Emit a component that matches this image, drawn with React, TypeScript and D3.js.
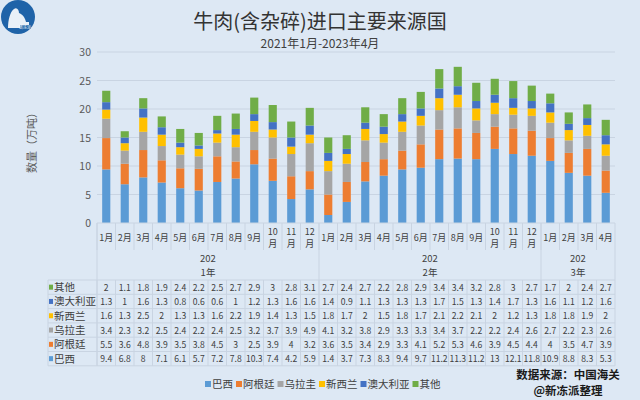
import React from "react";
import * as d3 from "d3";

const monthLabels = ["1月","2月","3月","4月","5月","6月","7月","8月","9月","10月","11月","12月","1月","2月","3月","4月","5月","6月","7月","8月","9月","10月","11月","12月","1月","2月","3月","4月"];
const yearGroups = [
  { label: ["202", "1年"], start: 0, end: 11 },
  { label: ["202", "2年"], start: 12, end: 23 },
  { label: ["202", "3年"], start: 24, end: 27 },
];
const seriesNames = ["巴西", "阿根廷", "乌拉圭", "新西兰", "澳大利亚", "其他"];
const seriesColors = ["#5b9bd5", "#ed7d31", "#a5a5a5", "#ffc000", "#4472c4", "#70ad47"];

const brazil = [9.4,6.8,8,7.1,6.1,5.7,7.2,7.8,10.3,7.4,4.2,5.9,1.4,3.7,7.3,8.3,9.4,9.7,11.2,11.3,11.2,13,12.1,11.8,10.9,8.8,8.3,5.3];
const argentina = [5.5,3.6,4.8,3.9,3.5,3.8,4.5,3,2.5,3.9,4,3.2,3.6,3.5,3.4,2.9,3.3,4.1,5.2,5.3,4.6,3.9,4.5,4.4,4,3.5,4.7,3.9];
const uruguay = [3.4,2.3,3.2,2.5,2.4,2.2,2.4,2.5,3.2,3.7,3.9,4.9,4.1,3.2,3.8,2.9,3.3,3.3,3.4,3.7,2.2,2.2,2.4,2.6,2.7,2.2,2.3,2.6];
const newZealand = [1.6,1.3,2.5,2,1.3,1.3,1.6,2.2,1.9,1.4,1.3,1.5,1.8,1.7,2,1.5,1.8,1.7,2.1,2.2,2.1,2,1.2,1.3,1.8,1.8,1.9,2];
const australia = [1.3,1,1.6,1.3,0.8,0.6,0.6,1,1.2,1.3,1.6,1.6,1.4,0.9,1.1,1.3,1.3,1.3,1.7,1.5,1.3,1.4,1.7,1.3,1.6,1.1,1.2,1.6];
const others = [2,1.1,1.8,1.9,2.4,2.2,2.5,2.7,2.9,3,2.8,3.1,2.7,2.4,2.7,2.2,2.8,2.9,3.4,3.4,3.2,2.8,3,2.7,1.7,2,2.4,2.7];
const yTicks = [0, 5, 10, 15, 20, 25, 30];

const seriesValues = [brazil, argentina, uruguay, newZealand, australia, others];
const tableOrder = [5, 4, 3, 2, 1, 0];

const W = 640, H = 400;
const plotL = 97, plotR = 615, plotT = 52, plotB = 223;
const tableTop = 280, rowH = 14.3, tableLeft = 48;
const gridColor = "#c9d4e2";
const font = "'Noto Sans CJK SC', 'Microsoft YaHei', sans-serif";

export default function App() {
  const idx = monthLabels.map((_, i) => i);
  const x = d3.scaleBand<number>().domain(idx).range([plotL, plotR]).padding(0);
  const y = d3.scaleLinear().domain([0, 30]).range([plotB, plotT]);
  const barW = x.bandwidth() * 0.44;

  const rows = idx.map((i) => {
    const o: any = { i };
    seriesNames.forEach((n, k) => (o[n] = seriesValues[k][i]));
    return o;
  });
  const stacked = d3.stack<any>().keys(seriesNames)(rows);

  const tableBottom = tableTop + rowH * 6;

  const legendItems: { name: string; color: string; x: number }[] = [];
  let lx = 205;
  seriesNames.forEach((n, k) => {
    legendItems.push({ name: n, color: seriesColors[k], x: lx });
    lx += 6 + n.length * 10.5 + 4;
  });

  return (
    <div style={{ position: "fixed", left: 0, top: 0, width: W, height: H }}>
      <svg width={W} height={H} style={{ display: "block", fontFamily: font }}>
        <rect width={W} height={H} fill="#dde8f4" />
        <g>
          <circle cx={18} cy={17} r={17} fill="#1f63a8" />
          <path d="M8,28 C8,20 10,12 14,9 C17,7 19,10 19,13 C22,14 25,17 26,22 L29,22 L29,28 Z" fill="#ffffff" opacity={0.9} />
          <rect x={20} y={25} width={11} height={4} fill="#1f63a8" />
          <text x={25} y={28.5} fontSize={4} fill="#fff" textAnchor="middle">新冻派</text>
        </g>
        <text x={320} y={29} textAnchor="middle" fontSize={20} fill="#333" fontFamily="'Noto Sans CJK SC', serif">牛肉(含杂碎)进口主要来源国</text>
        <text x={320} y={48} textAnchor="middle" fontSize={12} fill="#404040">2021年1月-2023年4月</text>
        <text transform={`translate(36,140) rotate(-90)`} textAnchor="middle" fontSize={11} fill="#595959">数量（万吨）</text>
        {yTicks.map((t) => (
          <g key={t}>
            {t > 0 && <line x1={plotL} x2={plotR} y1={y(t)} y2={y(t)} stroke={gridColor} strokeWidth={1} />}
            <text x={91} y={y(t) + 4} textAnchor="end" fontSize={10.5} fill="#595959">{t}</text>
          </g>
        ))}
        {stacked.map((s, k) => (
          <g key={s.key} fill={seriesColors[k]}>
            {s.map((d, i) => (
              <rect key={i} x={(x(i) as number) + (x.bandwidth() - barW) / 2} y={y(d[1])} width={barW} height={y(d[0]) - y(d[1])} />
            ))}
          </g>
        ))}
        <line x1={plotL} x2={plotR} y1={plotB} y2={plotB} stroke={gridColor} />
        {idx.map((i) => (
          <line key={i} x1={x(i) as number} x2={x(i) as number} y1={plotB} y2={250} stroke={gridColor} />
        ))}
        <line x1={plotR} x2={plotR} y1={plotB} y2={tableBottom} stroke={gridColor} />
        {yearGroups.map((g) => (
          <line key={g.start} x1={x(g.start) as number} x2={x(g.start) as number} y1={plotB} y2={tableBottom} stroke={gridColor} />
        ))}
        {monthLabels.map((m, i) => {
          const cx = (x(i) as number) + x.bandwidth() / 2;
          if (m.length > 2) {
            return (
              <g key={i}>
                <text x={cx} y={235} textAnchor="middle" fontSize={9} fill="#404040">{m.slice(0, 2)}</text>
                <text x={cx} y={246.5} textAnchor="middle" fontSize={9} fill="#404040">{m.slice(2)}</text>
              </g>
            );
          }
          return <text key={i} x={cx} y={241} textAnchor="middle" fontSize={9} fill="#404040">{m}</text>;
        })}
        {yearGroups.map((g) => {
          const cx = ((x(g.start) as number) + (x(g.end) as number) + x.bandwidth()) / 2;
          return (
            <g key={g.start}>
              <text x={cx} y={262} textAnchor="middle" fontSize={9.5} fill="#404040">{g.label[0]}</text>
              <text x={cx} y={276} textAnchor="middle" fontSize={9.5} fill="#404040">{g.label[1]}</text>
            </g>
          );
        })}
        <line x1={tableLeft} x2={plotR} y1={tableTop} y2={tableTop} stroke={gridColor} />
        {tableOrder.map((k, r) => {
          const ry = tableTop + r * rowH;
          return (
            <g key={k}>
              <line x1={tableLeft} x2={plotR} y1={ry + rowH} y2={ry + rowH} stroke={gridColor} />
              <rect x={tableLeft + 1} y={ry + rowH / 2 - 2.5} width={4} height={5} fill={seriesColors[k]} />
              <text x={tableLeft + 6} y={ry + rowH / 2 + 4} fontSize={10.5} fill="#404040">{seriesNames[k]}</text>
              {seriesValues[k].map((v, i) => (
                <text key={i} x={(x(i) as number) + x.bandwidth() / 2} y={ry + rowH / 2 + 3.5} textAnchor="middle" fontSize={8.6} fill="#404040">{String(v)}</text>
              ))}
            </g>
          );
        })}
        <line x1={tableLeft} x2={tableLeft} y1={tableTop} y2={tableBottom} stroke={gridColor} />
        {idx.map((i) => (
          <line key={i} x1={x(i) as number} x2={x(i) as number} y1={tableTop} y2={tableBottom} stroke={gridColor} />
        ))}
        {legendItems.map((it) => (
          <g key={it.name}>
            <rect x={it.x} y={381} width={6} height={6} fill={it.color} />
            <text x={it.x + 7} y={388} fontSize={10.5} fill="#404040">{it.name}</text>
          </g>
        ))}
        <text x={568} y={379} textAnchor="middle" fontSize={11.5} fontWeight="bold" fill="#1a1a1a">数据来源：中国海关</text>
        <text x={568} y={395} textAnchor="middle" fontSize={11.5} fontWeight="bold" fill="#1a1a1a">@新冻派整理</text>
      </svg>
    </div>
  );
}
